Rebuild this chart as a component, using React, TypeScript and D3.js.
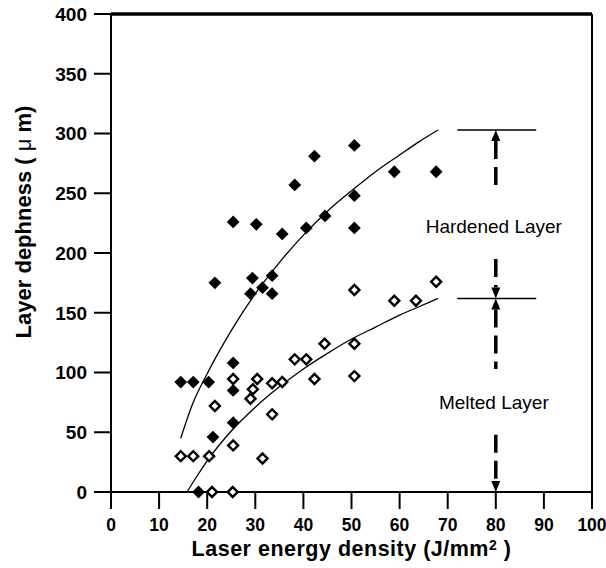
import React from "react";
import * as d3 from "d3";

// ---- data ----
const hardenedX = [14.5, 17.1, 20.3, 18.2, 21.2, 21.6, 25.4, 25.4, 25.4, 25.4, 29.0, 29.4, 30.2, 31.5, 33.5, 33.5, 35.6, 38.2, 40.6, 42.3, 44.5, 50.6, 50.6, 50.6, 58.9, 67.6];
const hardenedY = [92, 92, 92, 0, 46, 175, 58, 85, 108, 226, 166, 179, 224, 171, 181, 166, 216, 257, 221, 281, 231, 290, 248, 221, 268, 268];

const meltedX = [14.5, 17.1, 20.4, 21.0, 25.3, 21.6, 25.4, 25.4, 29.0, 29.5, 30.4, 31.5, 33.5, 33.5, 35.6, 38.2, 40.6, 42.3, 44.4, 50.6, 50.6, 50.6, 58.9, 63.4, 67.6];
const meltedY = [30, 30, 30, 0, 0, 72, 39, 94.5, 78, 86, 94.5, 28, 91, 65, 92, 111, 111, 94.5, 124, 169, 124, 97, 160, 160, 176];

// trend curves
const upperCurveX = [14.5, 17, 20, 25, 30, 35, 40, 45, 50, 55, 60, 64, 68];
const upperCurveY = [45, 74, 99, 135, 166, 192, 215, 235, 252, 268, 282, 293, 303];
const lowerCurveX = [15.8, 18, 20, 25, 30, 35, 40, 45, 50, 55, 60, 64, 68];
const lowerCurveY = [0, 14, 26, 51, 71, 88, 103, 116, 128, 138, 148, 155, 162];

const xTicks = [0, 10, 20, 30, 40, 50, 60, 70, 80, 90, 100];
const yTicks = [0, 50, 100, 150, 200, 250, 300, 350, 400];

// annotation levels
const hardenedTop = 303;
const meltedTop = 162;
const annotX = 80;
const refLineX = [72, 88.4];

const FONT = "'Liberation Sans', Arial, Helvetica, sans-serif";

export default function App() {
  const W = 606, H = 568;
  const x = d3.scaleLinear().domain([0, 100]).range([111, 592]);
  const y = d3.scaleLinear().domain([0, 400]).range([492, 14]);

  const line = d3.line<[number, number]>()
    .x((d) => x(d[0]))
    .y((d) => y(d[1]))
    .curve(d3.curveMonotoneX);

  const upper = upperCurveX.map((v, i) => [v, upperCurveY[i]] as [number, number]);
  const lower = lowerCurveX.map((v, i) => [v, lowerCurveY[i]] as [number, number]);

  const diamond = d3.symbol().type(d3.symbolSquare).size(82)()!;
  const diamondOpen = d3.symbol().type(d3.symbolSquare).size(50)()!;

  const ax = x(annotX);

  const headUp = (yy: number) => `M${ax},${yy} L${ax - 4.5},${yy + 11} L${ax + 4.5},${yy + 11} Z`;
  const headDown = (yy: number) => `M${ax},${yy} L${ax - 4.5},${yy - 11} L${ax + 4.5},${yy - 11} Z`;

  return (
    <svg width={W} height={H} style={{ position: "absolute", left: 0, top: 0, background: "#fff" }} fontFamily={FONT}>
      <rect width={W} height={H} fill="#fff" />
      {/* frame */}
      <line x1={x(0)} x2={x(100)} y1={y(400)} y2={y(400)} stroke="#000" strokeWidth={3.5} />
      <line x1={x(100)} x2={x(100)} y1={y(400)} y2={y(0)} stroke="#000" strokeWidth={2} />
      <line x1={x(0)} x2={x(0)} y1={y(400) - 1} y2={y(0)} stroke="#000" strokeWidth={2} />
      <line x1={x(0) - 17} x2={x(100)} y1={y(0)} y2={y(0)} stroke="#000" strokeWidth={2} />

      {/* y ticks */}
      {yTicks.map((t) => (
        <g key={"y" + t}>
          <line x1={x(0) - 17} x2={x(0)} y1={y(t)} y2={y(t)} stroke="#000" strokeWidth={2} />
          <text x={87} y={y(t)} dy="0.36em" textAnchor="end" fontSize={19} fontWeight="bold">{t}</text>
        </g>
      ))}
      {/* x ticks */}
      {xTicks.map((t) => (
        <g key={"x" + t}>
          <line x1={x(t)} x2={x(t)} y1={y(0)} y2={y(0) + 17} stroke="#000" strokeWidth={2} />
          <text x={x(t)} y={531} textAnchor="middle" fontSize={17.5} fontWeight="bold">{t}</text>
        </g>
      ))}

      {/* axis titles */}
      <text x={x(50)} y={556} textAnchor="middle" fontSize={21.5} fontWeight="bold" letterSpacing={0.5}>
        Laser energy density (J/mm<tspan dy={-6} fontSize={14}>2</tspan><tspan dy={6}> )</tspan>
      </text>
      <text transform="translate(31,222) rotate(-90)" textAnchor="middle" fontSize={22} fontWeight="bold">
        Layer dephness ( <tspan fontWeight="normal">μ</tspan> m)
      </text>

      {/* trend curves */}
      <path d={line(upper)!} fill="none" stroke="#000" strokeWidth={1.3} />
      <path d={line(lower)!} fill="none" stroke="#000" strokeWidth={1.3} />

      {/* markers */}
      {meltedX.map((v, i) => (
        <path key={"m" + i} d={diamondOpen} transform={`translate(${x(v)},${y(meltedY[i])}) rotate(45)`} fill="#fff" stroke="#000" strokeWidth={2.4} />
      ))}
      {hardenedX.map((v, i) => (
        <path key={"h" + i} d={diamond} transform={`translate(${x(v)},${y(hardenedY[i])}) rotate(45)`} fill="#000" />
      ))}

      {/* reference lines */}
      <line x1={x(refLineX[0])} x2={x(refLineX[1])} y1={y(hardenedTop)} y2={y(hardenedTop)} stroke="#000" strokeWidth={1.5} />
      <line x1={x(refLineX[0])} x2={x(refLineX[1])} y1={y(meltedTop)} y2={y(meltedTop)} stroke="#000" strokeWidth={1.5} />

      {/* dashed arrows */}
      <g stroke="#000" strokeWidth={3.5} strokeDasharray="18,8" fill="none">
        <line x1={ax} x2={ax} y1={y(hardenedTop) + 11} y2={y(255)} />
        <line x1={ax} x2={ax} y1={y(195)} y2={y(meltedTop) - 11} />
        <line x1={ax} x2={ax} y1={y(meltedTop) + 11} y2={y(103)} />
        <line x1={ax} x2={ax} y1={y(48)} y2={y(0) - 11} />
      </g>
      <g fill="#000">
        <path d={headUp(y(hardenedTop))} />
        <path d={headDown(y(meltedTop))} />
        <path d={headUp(y(meltedTop))} />
        <path d={headDown(y(0))} />
      </g>

      <text x={ax - 2} y={233} textAnchor="middle" fontSize={19}>Hardened Layer</text>
      <text x={ax - 2} y={409} textAnchor="middle" fontSize={19}>Melted Layer</text>
    </svg>
  );
}
